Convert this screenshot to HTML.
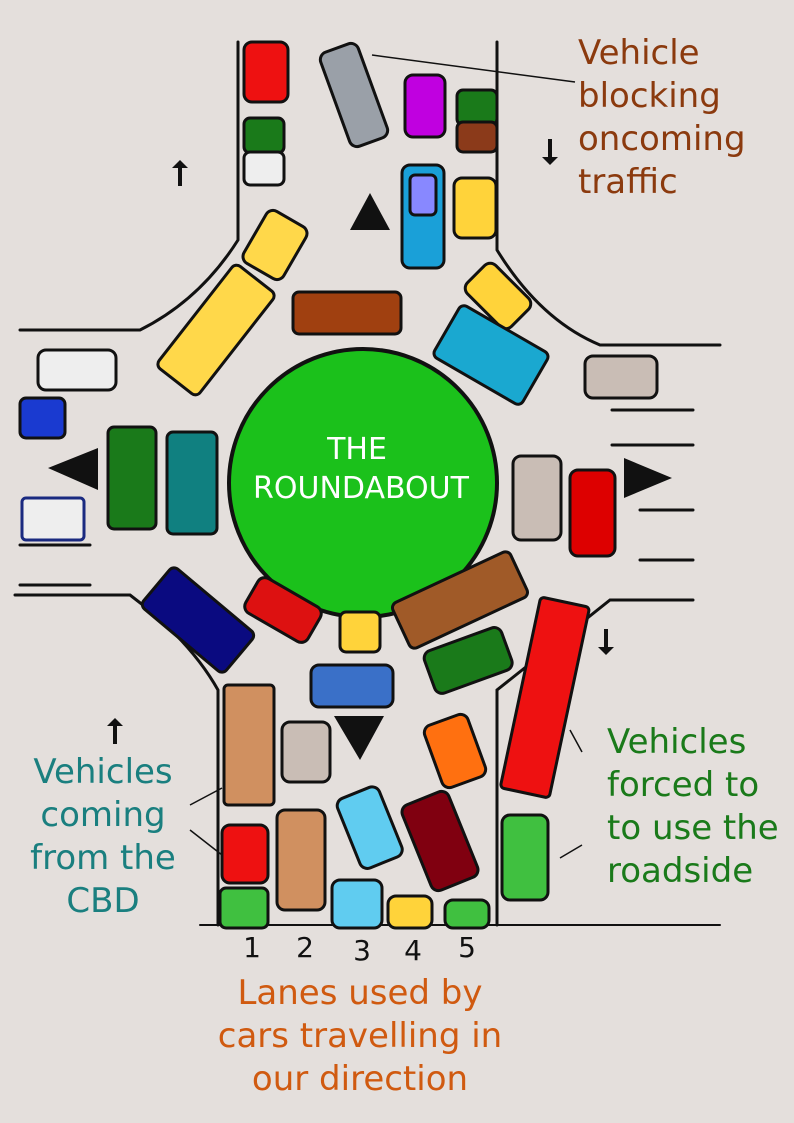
<!DOCTYPE html>
<html><head><meta charset="utf-8"><style>
html,body{margin:0;padding:0;background:#e4dfdc;}
svg{display:block;}
text{font-family:"DejaVu Sans","Liberation Sans",sans-serif;}
</style></head><body>
<svg width="794" height="1123" viewBox="0 0 794 1123" xmlns="http://www.w3.org/2000/svg">
<rect width="794" height="1123" fill="#e4dfdc"/>
<g fill="none" stroke="#111" stroke-width="3" stroke-linecap="round">
<path d="M238 42 L238 240 Q200 300 140 330 L20 330"/>
<path d="M497 42 L497 250 Q540 320 600 345 L720 345"/>
<path d="M15 595 L130 595 Q190 640 218 690 L218 925"/>
<path d="M693 600 L610 600 Q560 640 497 690 L497 925"/>
<path d="M200 925 L720 925" stroke-width="2"/>
<path d="M612 410 L693 410 M612 445 L693 445 M640 510 L693 510 M640 560 L693 560"/>
<path d="M20 545 L90 545 M20 585 L90 585"/>
</g>
<circle cx="363" cy="483" r="134" fill="#1bc11b" stroke="#111" stroke-width="4"/>
<text x="357" y="459" font-size="30" fill="#fff" text-anchor="middle">THE</text>
<text x="361" y="498" font-size="30" fill="#fff" text-anchor="middle">ROUNDABOUT</text>
<g fill="#111">
<polygon points="370,193 350,230 390,230"/>
<polygon points="48,468 98,448 98,490"/>
<polygon points="672,478 624,458 624,498"/>
<polygon points="334,716 384,716 360,760"/>
<path d="M180 160 l-8 8 h6 v18 h4 v-18 h6z"/>
<path d="M115 718 l-8 8 h6 v18 h4 v-18 h6z"/>
<path d="M550 165 l-8 -8 h6 v-18 h4 v18 h6z"/>
<path d="M606 655 l-8 -8 h6 v-18 h4 v18 h6z"/>
</g>
<g stroke="#111" stroke-width="3">
<rect x="244" y="42" width="44" height="60" rx="8" fill="#ee1111"/>
<rect x="334" y="45" width="40" height="100" rx="8" fill="#9aa0a8" transform="rotate(-20 354 95)"/>
<rect x="405" y="75" width="40" height="62" rx="8" fill="#c000e0"/>
<rect x="457" y="90" width="40" height="35" rx="6" fill="#1a7a1a"/>
<rect x="457" y="122" width="40" height="30" rx="6" fill="#8b3a1a"/>
<rect x="244" y="118" width="40" height="35" rx="6" fill="#1a7a1a"/>
<rect x="244" y="152" width="40" height="33" rx="6" fill="#eee"/>
<rect x="402" y="165" width="42" height="103" rx="8" fill="#1aa0d8"/>
<rect x="410" y="175" width="26" height="40" rx="5" fill="#8888ff"/>
<rect x="454" y="178" width="42" height="60" rx="8" fill="#ffd33a"/>
<rect x="252" y="215" width="46" height="60" rx="8" fill="#ffd84a" transform="rotate(30 275 245)"/>
<rect x="190" y="265" width="52" height="130" rx="6" fill="#ffd84a" transform="rotate(38 216 330)"/>
<rect x="293" y="292" width="108" height="42" rx="6" fill="#a04010"/>
<rect x="478" y="265" width="40" height="62" rx="8" fill="#ffd33a" transform="rotate(-45 498 296)"/>
<rect x="440" y="325" width="102" height="60" rx="6" fill="#1aa8d0" transform="rotate(30 491 355)"/>
<rect x="585" y="356" width="72" height="42" rx="8" fill="#c9bdb5"/>
<rect x="38" y="350" width="78" height="40" rx="8" fill="#eee"/>
<rect x="20" y="398" width="45" height="40" rx="6" fill="#1a3ad0"/>
<rect x="108" y="427" width="48" height="102" rx="6" fill="#1a7a1a"/>
<rect x="167" y="432" width="50" height="102" rx="6" fill="#108080"/>
<rect x="22" y="498" width="62" height="42" rx="4" fill="#eee" stroke="#1a2a80"/>
<rect x="513" y="456" width="48" height="84" rx="8" fill="#c9bdb5"/>
<rect x="570" y="470" width="45" height="86" rx="8" fill="#d00"/>
<rect x="172" y="566" width="52" height="108" rx="6" fill="#0a0a80" transform="rotate(-50 198 620)"/>
<rect x="247" y="590" width="72" height="40" rx="8" fill="#dd1111" transform="rotate(30 283 610)"/>
<rect x="340" y="612" width="40" height="40" rx="6" fill="#ffd33a"/>
<rect x="395" y="575" width="130" height="50" rx="6" fill="#a05a28" transform="rotate(-25 460 600)"/>
<rect x="427" y="638" width="82" height="45" rx="8" fill="#1a7a1a" transform="rotate(-20 468 660)"/>
<rect x="311" y="665" width="82" height="42" rx="8" fill="#3a70c8"/>
<rect x="224" y="685" width="50" height="120" rx="4" fill="#d09060"/>
<rect x="282" y="722" width="48" height="60" rx="8" fill="#c9bdb5"/>
<rect x="432" y="718" width="46" height="66" rx="8" fill="#ff7010" transform="rotate(-20 455 751)"/>
<rect x="520" y="600" width="50" height="195" rx="4" fill="#ee1111" transform="rotate(12 545 697)"/>
<rect x="347" y="790" width="45" height="75" rx="8" fill="#60ccf0" transform="rotate(-22 370 827)"/>
<rect x="415" y="795" width="50" height="92" rx="8" fill="#800010" transform="rotate(-22 440 841)"/>
<rect x="222" y="825" width="46" height="58" rx="8" fill="#ee1111"/>
<rect x="277" y="810" width="48" height="100" rx="8" fill="#d09060"/>
<rect x="502" y="815" width="46" height="85" rx="8" fill="#40c040"/>
<rect x="220" y="888" width="48" height="40" rx="6" fill="#40c040"/>
<rect x="332" y="880" width="50" height="48" rx="8" fill="#60ccf0"/>
<rect x="388" y="896" width="44" height="32" rx="8" fill="#ffd33a"/>
<rect x="445" y="900" width="44" height="28" rx="8" fill="#40c040"/>
</g>
<g stroke="#111" stroke-width="1.5" fill="none">
<path d="M372 55 L575 82"/>
<path d="M570 730 L582 752 M560 858 L582 845"/>
<path d="M190 805 L222 788 M190 830 L222 855"/>
</g>
<g font-size="34" fill="#8b3a0e">
<text x="578" y="64">Vehicle</text>
<text x="578" y="107">blocking</text>
<text x="578" y="150">oncoming</text>
<text x="578" y="193">traffic</text>
</g>
<g font-size="34" fill="#1a7a1a">
<text x="607" y="753">Vehicles</text>
<text x="607" y="796">forced to</text>
<text x="607" y="839">to use the</text>
<text x="607" y="882">roadside</text>
</g>
<g font-size="34" fill="#1a7f7f" text-anchor="middle">
<text x="103" y="783">Vehicles</text>
<text x="103" y="826">coming</text>
<text x="103" y="869">from the</text>
<text x="103" y="912">CBD</text>
</g>
<g font-size="28" fill="#111" text-anchor="middle">
<text x="252" y="957">1</text>
<text x="305" y="957">2</text>
<text x="362" y="960">3</text>
<text x="413" y="960">4</text>
<text x="467" y="957">5</text>
</g>
<g font-size="34" fill="#d05a10" text-anchor="middle">
<text x="360" y="1004">Lanes used by</text>
<text x="360" y="1047">cars travelling in</text>
<text x="360" y="1090">our direction</text>
</g>
</svg>
</body></html>
